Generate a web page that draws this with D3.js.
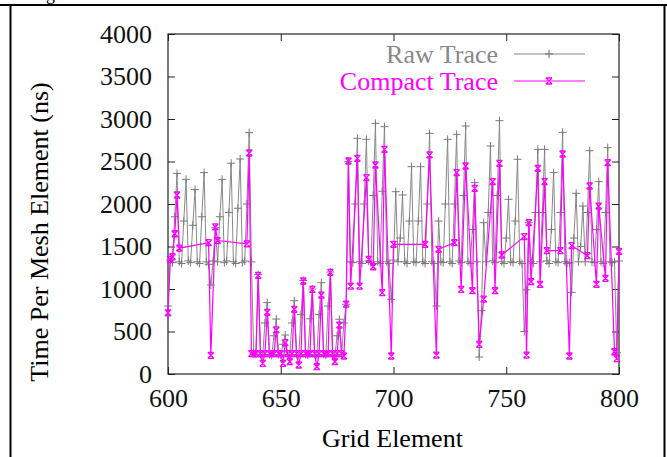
<!DOCTYPE html>
<html>
<head>
<meta charset="utf-8">
<script src="https://cdn.jsdelivr.net/npm/d3@7"></script>
<style>
    body { margin: 0; background: #fff; }
    svg { display: block; font-family: 'Liberation Serif', 'Times New Roman', serif; }
</style>
</head>
<body>
<svg id="chart" width="667" height="457"></svg>
<script>
// raw trace: one value per grid element, 600..800
let rawStart = 600;
let rawValues = [
    800, 1340, 1310, 1850, 2360, 1320, 1300, 1800, 2290, 1330,
    1310, 1750, 2170, 1320, 1300, 1850, 2370, 1320, 1290, 1047,
    1330, 1720, 1320, 1850, 2290, 1310, 1330, 1900, 2480, 1320,
    1300, 1950, 2530, 1310, 1330, 2000, 2840, 1320, 240, 230,
    1170, 230, 220, 600, 840, 230, 220, 450, 647, 230,
    220, 350, 459, 230, 220, 600, 862, 230, 220, 700,
    1100, 230, 220, 650, 1000, 230, 220, 700, 1074, 230,
    220, 800, 1200, 230, 220, 450, 644, 230, 600, 820,
    2500, 1320, 1310, 2000, 2773, 1320, 1300, 2000, 2761, 1330,
    1310, 2100, 2949, 1320, 1300, 2150, 2910, 1320, 1300, 879,
    1340, 2145, 1320, 1600, 2106, 1320, 1300, 1800, 2439, 1320,
    1310, 1800, 2439, 1320, 1300, 2000, 2831, 1320, 1300, 800,
    1800, 1320, 1310, 2000, 2761, 1320, 1300, 2000, 2820, 1330,
    1310, 2100, 2918, 1320, 1300, 1700, 2251, 1320, 200, 745,
    1780, 1320, 1900, 2682, 1330, 1310, 2100, 2980, 1320, 1300,
    1600, 2055, 1320, 1310, 1800, 2526, 1320, 1300, 500, 990,
    1780, 1320, 1300, 1900, 2643, 1320, 1900, 2643, 1330, 1300,
    1700, 2369, 1320, 1310, 1900, 2843, 1320, 1300, 1310, 960,
    1600, 2126, 1320, 1500, 1976, 1320, 1900, 2627, 1320, 1310,
    1700, 2263, 1320, 1300, 1900, 2663, 1320, 1310, 1320, 250,
    1330
];

// compact trace: only the elements it keeps
let compactX = [
    600, 601, 602, 603, 604, 605, 618, 619, 621, 622, 635, 636,
    637, 638, 639, 640, 641, 642, 643, 644, 645, 646, 647, 648,
    649, 650, 651, 652, 653, 654, 655, 656, 657, 658, 659, 660,
    661, 662, 663, 664, 665, 666, 667, 668, 669, 670, 671, 672,
    673, 674, 675, 676, 677, 678, 679, 680, 681, 684, 685, 688,
    689, 691, 692, 695, 696, 699, 700, 714, 716, 719, 720, 727,
    728, 730, 732, 735, 736, 738, 740, 744, 745, 747, 748, 758,
    759, 760, 761, 764, 765, 767, 768, 774, 775, 778, 779, 786,
    787, 790, 791, 794, 795, 798, 799, 800
];
let compactValues = [
    720, 1350, 1380, 1650, 2106, 1480, 1545, 220, 1730, 1570, 1530, 2600,
    240, 240, 240, 1160, 240, 125, 240, 726, 240, 240, 240, 518,
    240, 240, 125, 368, 240, 145, 240, 761, 240, 106, 240, 1094,
    240, 240, 240, 996, 240, 86, 240, 929, 240, 240, 240, 1196,
    240, 145, 240, 576, 240, 212, 823, 2506, 1035, 2537, 1035, 2310,
    1349, 1262, 2459, 957, 2643, 212, 1526, 1526, 2577, 223, 1467, 1545,
    2369, 996, 2447, 980, 2184, 349, 882, 2263, 980, 2478, 1400, 1616,
    223, 1780, 1086, 2420, 1055, 2263, 1451, 1451, 2588, 212, 1510, 1392,
    2212, 1055, 1976, 1126, 2486, 262, 181, 1442
];

let xTicks = [600, 650, 700, 750, 800];
let yTicks = [0, 500, 1000, 1500, 2000, 2500, 3000, 3500, 4000];
let seriesNames = ['Raw Trace', 'Compact Trace'];

let rawColor = '#888888';
let compactColor = '#ff00ff';

let svg = d3.select('#chart');
let pLeft = 168, pRight = 619, pTop = 34, pBottom = 374;

let x = d3.scaleLinear().domain([600, 800]).range([pLeft, pRight]);
let y = d3.scaleLinear().domain([0, 4000]).range([pBottom, pTop]);

let rawData = rawValues.map((v, i) => ({x: rawStart + i, y: v}));
let compactData = compactX.map((v, i) => ({x: v, y: compactValues[i]}));

// page frame around the figure (caption of the page above is clipped)
svg.append('text')
    .attr('x', 31).attr('y', 0)
    .attr('font-size', 18)
    .text('Figure');
let frame = svg.append('g').attr('stroke', '#000').attr('stroke-width', 2);
frame.append('line').attr('x1', 0).attr('x2', 667).attr('y1', 5).attr('y2', 5);
frame.append('line').attr('x1', 10.5).attr('x2', 10.5).attr('y1', 4).attr('y2', 457);
frame.append('line').attr('x1', 664.5).attr('x2', 664.5).attr('y1', 4).attr('y2', 457);

// axes with mirrored inward ticks
let xAxisG = svg.append('g')
    .attr('transform', `translate(0, ${pBottom})`)
    .call(d3.axisBottom(x).tickValues(xTicks).tickSize(-7).tickPadding(16).tickFormat(d3.format('d')))
    .call(g => g.select('.domain').remove());
svg.append('g')
    .attr('transform', `translate(0, ${pTop})`)
    .call(d3.axisTop(x).tickValues(xTicks).tickSize(-7).tickFormat(''))
    .call(g => g.select('.domain').remove());
svg.append('g')
    .attr('transform', `translate(${pLeft}, 0)`)
    .call(d3.axisLeft(y).tickValues(yTicks).tickSize(-7).tickPadding(16).tickFormat(d3.format('d')))
    .call(g => g.select('.domain').remove());
svg.append('g')
    .attr('transform', `translate(${pRight}, 0)`)
    .call(d3.axisRight(y).tickValues(yTicks).tickSize(-7).tickFormat(''))
    .call(g => g.select('.domain').remove());

svg.selectAll('.tick line').attr('stroke', '#222');
svg.selectAll('.tick text')
    .attr('font-family', 'Liberation Serif, serif')
    .attr('font-size', 26)
    .attr('fill', '#111');
xAxisG.selectAll('.tick text').attr('dy', '0.65em');

svg.append('rect')
    .attr('x', pLeft).attr('y', pTop)
    .attr('width', pRight - pLeft).attr('height', pBottom - pTop)
    .attr('fill', 'none')
    .attr('stroke', '#222')
    .attr('stroke-width', 1.2);

// axis titles
svg.append('text')
    .attr('x', (pLeft + pRight) / 2 - 1)
    .attr('y', 447)
    .attr('text-anchor', 'middle')
    .attr('font-size', 26)
    .text('Grid Element');
svg.append('text')
    .attr('transform', `translate(48, ${(pTop + pBottom) / 2 + 28}) rotate(-90)`)
    .attr('text-anchor', 'middle')
    .attr('font-size', 26)
    .text('Time Per Mesh Element (ns)');

let line = d3.line().x(d => x(d.x)).y(d => y(d.y));

function plusPath(cx, cy, s) {
    return `M${cx - s},${cy}H${cx + s}M${cx},${cy - s}V${cy + s}`;
}
function crossPath(cx, cy, s) {
    return `M${cx - s},${cy - s}L${cx + s},${cy + s}M${cx - s},${cy + s}L${cx + s},${cy - s}` +
        `M${cx - s},${cy - s}H${cx + s}M${cx - s},${cy + s}H${cx + s}`;
}

let plot = svg.append('g');

plot.append('path')
    .datum(rawData)
    .attr('fill', 'none')
    .attr('stroke', rawColor)
    .attr('stroke-width', 1)
    .attr('d', line);
plot.append('g')
    .selectAll('path')
    .data(rawData)
    .join('path')
    .attr('fill', 'none')
    .attr('stroke', '#7a7a7a')
    .attr('stroke-width', 1)
    .attr('d', d => plusPath(x(d.x), y(d.y), 4));

plot.append('path')
    .datum(compactData)
    .attr('fill', 'none')
    .attr('stroke', compactColor)
    .attr('stroke-width', 1.2)
    .attr('d', line);
plot.append('g')
    .selectAll('path')
    .data(compactData)
    .join('path')
    .attr('fill', 'none')
    .attr('stroke', compactColor)
    .attr('stroke-width', 1.3)
    .attr('d', d => crossPath(x(d.x), y(d.y), 3));

// legend
let legend = svg.append('g');
let legendRows = [
    {name: seriesNames[0], color: rawColor, y: 54, mark: 'plus'},
    {name: seriesNames[1], color: compactColor, y: 81, mark: 'cross'}
];
legendRows.forEach(r => {
    legend.append('text')
        .attr('x', 498).attr('y', r.y + 9)
        .attr('text-anchor', 'end')
        .attr('font-size', 26)
        .attr('fill', r.color)
        .text(r.name);
    legend.append('line')
        .attr('x1', 514).attr('x2', 585)
        .attr('y1', r.y).attr('y2', r.y)
        .attr('stroke', r.color)
        .attr('stroke-width', 1.2);
    legend.append('path')
        .attr('fill', 'none')
        .attr('stroke', r.color)
        .attr('stroke-width', 1.3)
        .attr('d', r.mark === 'plus' ? plusPath(549, r.y, 4) : crossPath(549, r.y, 3));
});
</script>
</body>
</html>
